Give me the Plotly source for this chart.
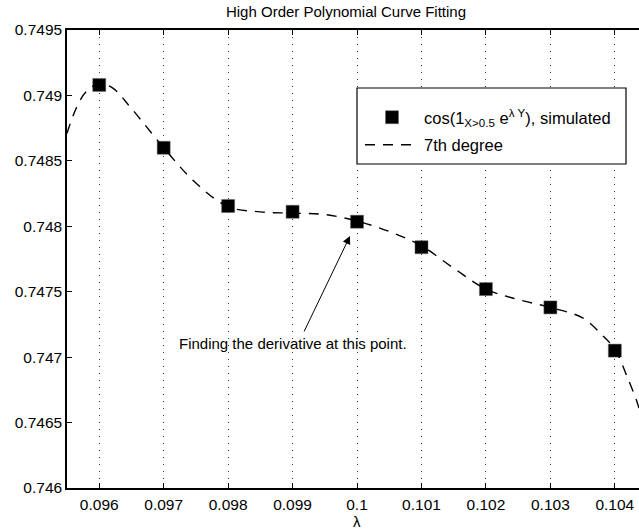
import plotly.graph_objects as go

# Simulated points
lam = [0.096, 0.097, 0.098, 0.099, 0.100, 0.101, 0.102, 0.103, 0.104]
sim_vals = [0.74908, 0.74860, 0.748155, 0.748111, 0.748035, 0.74784, 0.74752, 0.74738, 0.74705]

# 7th degree fitted curve
curve_x = [0.0955, 0.09565, 0.0958, 0.0960, 0.0962, 0.0965, 0.0970, 0.0975, 0.0980, 0.0985,
           0.0990, 0.0995, 0.1000, 0.1005, 0.1010, 0.1015, 0.1020, 0.1025, 0.1030, 0.1035,
           0.1038, 0.1040, 0.1042, 0.10435, 0.104375]
curve_y = [0.74871, 0.74891, 0.74903, 0.74909, 0.74906, 0.74890, 0.74860, 0.74833, 0.74815, 0.74811,
           0.74810, 0.74809, 0.74804, 0.74796, 0.74785, 0.74768, 0.74752, 0.74744, 0.74738, 0.74730,
           0.74717, 0.74706, 0.74684, 0.74665, 0.74661]

x_ticks = [0.096, 0.097, 0.098, 0.099, 0.1, 0.101, 0.102, 0.103, 0.104]
x_ticktext = ["0.096", "0.097", "0.098", "0.099", "0.1", "0.101", "0.102", "0.103", "0.104"]
y_ticks = [0.746, 0.7465, 0.747, 0.7475, 0.748, 0.7485, 0.749, 0.7495]
y_ticktext = ["0.746", "0.7465", "0.747", "0.7475", "0.748", "0.7485", "0.749", "0.7495"]

FONT = "Liberation Sans, Arial, Helvetica, sans-serif"
W, H = 639, 529
L, R, T, B = 67, 0, 30, 41
PW, PH = W - L - R, H - T - B

def px_x(p):
    return (p - L) / PW

def px_y(p):
    return (H - B - p) / PH

fig = go.Figure()
fig.add_trace(go.Scatter(
    x=lam, y=sim_vals, mode="markers",
    marker=dict(symbol="square", size=13, color="black", line=dict(color="#666", width=0.5)),
    name="cos(1<sub>X&gt;0.5</sub> e<sup>λ Y</sup>), simulated", legendgroup="a",
))
fig.add_trace(go.Scatter(
    x=curve_x, y=curve_y, mode="lines", line_shape="spline",
    line=dict(color="black", width=1.4, dash="10px,8px"),
    name="7th degree", legendgroup="b",
))

# arrow
fig.add_annotation(x=0.099891, y=0.747926, ax=0.099168, ay=0.747185,
                   xref="x", yref="y", axref="x", ayref="y",
                   text="", showarrow=True, arrowhead=2, arrowsize=1.6,
                   arrowwidth=1, arrowcolor="black")
fig.add_annotation(x=0.098999, y=0.747108, xref="x", yref="y", text="Finding the derivative at this point.",
                   showarrow=False, font=dict(size=15, color="black", family=FONT))
# x-axis label
fig.add_annotation(x=px_x(357), y=px_y(521), xref="paper", yref="paper", text="λ",
                   showarrow=False, yanchor="middle", font=dict(size=15, color="black", family=FONT))

# legend frame
fig.add_shape(type="rect", xref="paper", yref="paper",
              x0=px_x(357), x1=px_x(626), y0=px_y(164), y1=px_y(88),
              line=dict(color="black", width=1.2), fillcolor="white", layer="above")

fig.update_layout(
    width=W, height=H,
    margin=dict(l=L, r=R, t=T, b=B, autoexpand=False),
    paper_bgcolor="white", plot_bgcolor="white",
    font=dict(family=FONT, size=15, color="black"),
    title=dict(text="High Order Polynomial Curve Fitting", x=346/639, xref="container", xanchor="center",
               y=1-12/529, yref="container", yanchor="middle", font=dict(size=15, color="black")),
    showlegend=True,
    legend=dict(x=px_x(360), y=px_y(100), xanchor="left", yanchor="top",
                borderwidth=0, bgcolor="rgba(0,0,0,0)", itemwidth=54,
                font=dict(size=16.5, color="black"), tracegroupgap=3),
)
fig.update_xaxes(range=[0.0955, 0.104375], tickvals=x_ticks, ticktext=x_ticktext,
                 showgrid=True, gridcolor="#333", griddash="1px,6px", gridwidth=1,
                 showline=True, linecolor="black", linewidth=1.5, mirror="ticks",
                 ticks="inside", ticklen=5, tickcolor="black", zeroline=False,
                 tickfont=dict(size=15.5), ticklabelstandoff=2, automargin=False)
fig.update_yaxes(range=[0.746, 0.7495], tickvals=y_ticks, ticktext=y_ticktext,
                 showgrid=False, showline=True, linecolor="black", linewidth=1.5,
                 ticks="inside", ticklen=5, tickcolor="black", zeroline=False,
                 tickfont=dict(size=15.5), automargin=False)

fig.write_html("out.html", post_script="document.body.style.margin='0';",
               config={"displayModeBar": False})
